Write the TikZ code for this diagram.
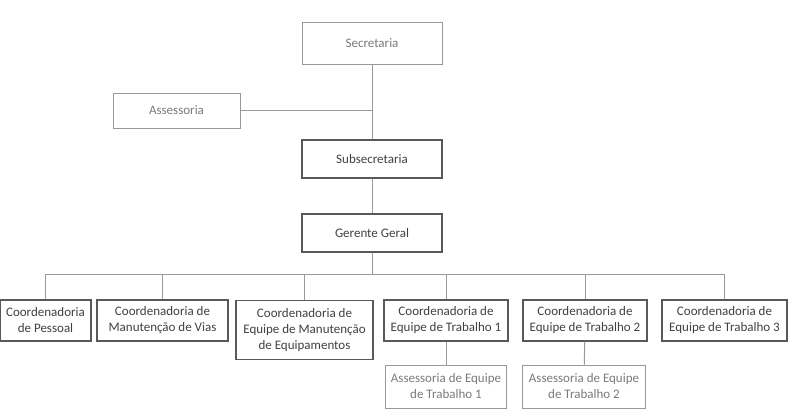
\documentclass[tikz,border=0pt]{standalone}
\usepackage{fontspec}
\setmainfont{Carlito}
\usetikzlibrary{positioning}
\definecolor{boxgray}{gray}{0.35}
\definecolor{lightbox}{gray}{0.6}
\definecolor{txtgray}{gray}{0.25}
\tikzset{
  unit/.style={draw=boxgray,line width=1.1pt,text=txtgray,align=center,font=\fontsize{13}{16}\selectfont,inner sep=0pt},
  soft/.style={unit,draw=lightbox,text=lightbox!80!black,line width=0.9pt},
  link/.style={draw=lightbox,line width=1pt}
}
\begin{document}
\begin{tikzpicture}[x=1pt,y=-1pt]
  \useasboundingbox (0,0) rectangle (796,410);
  %%% TOP %%%
  \node[soft,minimum width=140,minimum height=42] (sec) at (372,43) {Secretaria};
  \node[soft,minimum width=127,minimum height=35] (ass) at (176.5,110.5) {Assessoria};
  \node[unit,minimum width=140,minimum height=38] (sub) at (372,159) {Subsecretaria};
  \node[unit,minimum width=140,minimum height=38] (ger) at (372,233) {Gerente Geral};
  \coordinate (j) at (372,110.5);
  \draw[link] (sec) -- (sub);
  \draw[link] (ass) -- (j);
  \draw[link] (sub) -- (ger);
  %%% COORDENADORIAS %%%
  \node[unit,minimum width=91,minimum height=41] (c1) at (45.5,320.5) {Coordenadoria\\de Pessoal};
  \node[unit,minimum width=131,minimum height=41] (c2) at (162.5,320.5) {Coordenadoria de\\Manutenção de Vias};
  \node[unit,minimum width=137,minimum height=59,anchor=north] (c3) at (304.5,300) {Coordenadoria de\\Equipe de Manutenção\\de Equipamentos};
  \node[unit,minimum width=124,minimum height=41] (c4) at (446,320.5) {Coordenadoria de\\Equipe de Trabalho 1};
  \node[unit,minimum width=124,minimum height=41] (c5) at (585,320.5) {Coordenadoria de\\Equipe de Trabalho 2};
  \node[unit,minimum width=125,minimum height=41] (c6) at (724.5,320.5) {Coordenadoria de\\Equipe de Trabalho 3};
  \node[soft,minimum width=121,minimum height=43] (a1) at (446,386.5) {Assessoria de Equipe\\de Trabalho 1};
  \node[soft,minimum width=123,minimum height=43] (a2) at (584,386.5) {Assessoria de Equipe\\de Trabalho 2};
  \coordinate (bus) at (372,274);
  \draw[link] (ger) -- (bus);
  \foreach \c in {c1,c2,c3,c4,c5,c6}
    \draw[link] (bus) -| (\c);
  \draw[link] (c4) -- (a1);
  \draw[link] (c5) -- (a2);
\end{tikzpicture}
\end{document}
